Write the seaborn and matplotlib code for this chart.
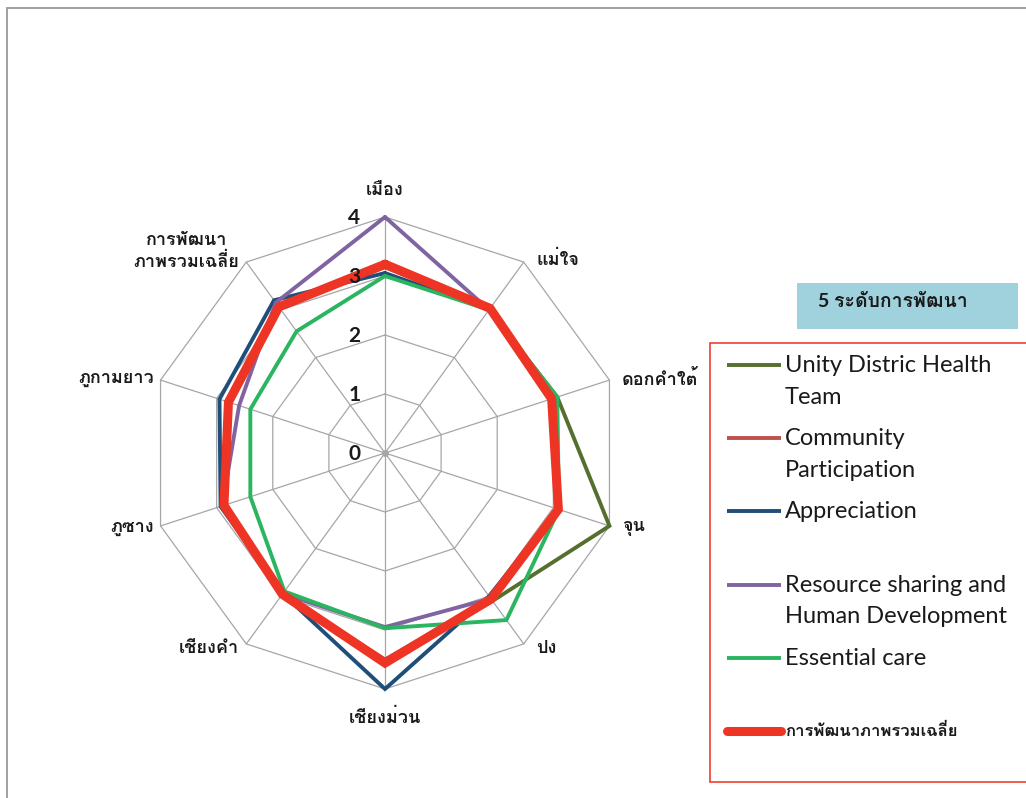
import numpy as np
import pandas as pd
import matplotlib
matplotlib.use("Agg")
import matplotlib.pyplot as plt
import seaborn as sns
from matplotlib import font_manager as fm
from matplotlib.ft2font import FT2Font
from matplotlib.patches import Rectangle
from matplotlib.lines import Line2D

# ---- data -------------------------------------------------------------
categories = ["เมือง", "แม่ใจ", "ดอกคำใต้", "จุน", "ปง", "เชียงม่วน",
              "เชียงคำ", "ภูซาง", "ภูกามยาว", "การพัฒนา\nภาพรวมเฉลี่ย"]

unity        = [3.20, 3.00, 3.07, 4.00, 3.10, 3.55, 2.95, 2.85, 2.80, 3.05]
community    = [3.15, 3.00, 2.95, 3.05, 3.05, 3.50, 2.95, 2.85, 2.80, 3.05]
appreciation = [3.05, 3.00, 2.97, 3.09, 3.00, 4.00, 2.95, 2.93, 2.95, 3.20]
resource     = [4.00, 3.00, 2.97, 3.09, 3.05, 2.95, 2.95, 2.90, 2.60, 3.15]
essential    = [3.00, 3.00, 3.07, 3.10, 3.50, 2.97, 2.90, 2.40, 2.40, 2.55]
average      = [3.20, 3.03, 2.97, 3.09, 3.06, 3.56, 2.96, 2.87, 2.79, 3.06]

series_labels = ["Unity Distric Health\nTeam", "Community\nParticipation",
                 "Appreciation", "Resource sharing and\nHuman Development",
                 "Essential care", "การพัฒนาภาพรวมเฉลี่ย"]
radial_ticks = [0, 1, 2, 3, 4]
legend_title = "5 ระดับการพัฒนา"

# ---- styling ----------------------------------------------------------
series_values = [unity, community, appreciation, resource, essential, average]
series_colors = ["#55702E", "#C0504D", "#1F4E79", "#8064A2", "#2BB560", "#EE3424"]
series_widths = [2.8, 2.8, 2.8, 2.8, 2.8, 6.5]

sns.set_theme(style="white")


def thai_families():
    names = []
    for f in fm.fontManager.ttflist:
        try:
            cmap = FT2Font(f.fname).get_charmap()
        except Exception:
            continue
        if 0x0E01 in cmap and f.name not in names:
            names.append(f.name)
    return names


plt.rcParams["font.family"] = ["Lato"] + thai_families() + ["DejaVu Sans"]

W, H = 1026, 798
fig = plt.figure(figsize=(W / 100, H / 100), dpi=100)
fig.patch.set_facecolor("white")


def fx(px):
    return px / W


def fy(py):
    return 1 - py / H


# chart-area frame
fig.add_artist(Line2D([fx(7), fx(7)], [fy(8), 0], color="#A0A0A0", lw=1.4))
fig.add_artist(Line2D([fx(7), 1], [fy(8), fy(8)], color="#A0A0A0", lw=1.4))

# ---- radar axes -------------------------------------------------------
cx, cy, r_top_px = 385, 453, 236
rmax = 5.0
rpx = r_top_px * rmax / max(radial_ticks)
ax = fig.add_axes([fx(cx - rpx), fy(cy + rpx), 2 * rpx / W, 2 * rpx / H],
                  projection="polar")
ax.set_theta_offset(np.pi / 2)
ax.set_theta_direction(-1)
ax.patch.set_alpha(0)

n = len(categories)
theta = np.arange(n) * 2 * np.pi / n
theta_closed = np.append(theta, 2 * np.pi)

grid_col = "#A6A6A6"
for lvl in radial_ticks[1:]:
    ax.plot(theta_closed, [lvl] * (n + 1), color=grid_col, lw=0.9, zorder=1)
for t in theta:
    ax.plot([t, t], [0, max(radial_ticks)], color=grid_col, lw=0.9, zorder=1)
ax.plot([0], [0], "o", color=grid_col, ms=4, zorder=1)

for k, (vals, col, lw) in enumerate(zip(series_values, series_colors, series_widths)):
    frame = pd.DataFrame({"theta": theta_closed, "value": list(vals) + [vals[0]]})
    sns.lineplot(data=frame, x="theta", y="value", ax=ax, color=col, lw=lw,
                 sort=False, estimator=None, clip_on=False, zorder=3 + k,
                 solid_joinstyle="miter")

ax.set_ylim(0, rmax)
ax.grid(False)
ax.spines["polar"].set_visible(False)
ax.set_xticks([])
ax.set_yticks([])
ax.set_xlabel("")
ax.set_ylabel("")

# radial value labels, drawn above the series
for v in radial_ticks:
    ax.annotate(str(v), xy=(0, v), xytext=(-22, -1), textcoords="offset points",
                ha="center", va="center", fontsize=15, fontweight="bold",
                color="#1A1A1A", zorder=20)

# category labels
top = max(radial_ticks)
for t, lab in zip(theta, categories):
    s = np.sin(t)
    c = np.cos(t)
    if s > 0.1:
        ha, dx = "left", 9
    elif s < -0.1:
        ha, dx = "right", -5
    else:
        ha, dx = "center", 0
    dy = 20 * np.sign(c) if abs(s) < 0.1 else 3 * c
    if "\n" in lab:
        dy += 6
    ax.annotate(lab, xy=(t, top), xytext=(dx, dy), textcoords="offset points",
                ha=ha, va="center", multialignment="center",
                fontsize=13, fontweight="bold", color="#1A1A1A",
                linespacing=1.25, zorder=20)

# ---- legend -----------------------------------------------------------
fig.add_artist(Rectangle((fx(797), fy(329)), fx(1018) - fx(797), fy(283) - fy(329),
                         transform=fig.transFigure, facecolor="#A0D2DD",
                         edgecolor="none"))
fig.text(fx(818), fy(301), legend_title, fontsize=14, fontweight="bold",
         ha="left", va="center", color="#1A1A1A")

fig.add_artist(Rectangle((fx(710), fy(782)), 1.2, fy(343) - fy(782),
                         transform=fig.transFigure, facecolor="white",
                         edgecolor="#EE3F30", lw=1.2))

row0, row_step = 365, 73.2
for k, (lab, col, lw) in enumerate(zip(series_labels, series_colors, series_widths)):
    y = row0 + k * row_step
    fig.add_artist(Line2D([fx(727), fx(781)], [fy(y), fy(y)], color=col,
                          lw=lw, solid_capstyle="round" if lw > 4 else "butt"))
    thai = k == len(series_labels) - 1
    if thai:
        fig.text(fx(785), fy(y), lab, fontsize=12, fontweight="bold",
                 ha="left", va="center", color="#1A1A1A")
    else:
        fig.text(fx(785), fy(y - 10), lab, fontsize=17, ha="left", va="top",
                 linespacing=1.62, color="#1A1A1A")

fig.savefig("out.png", dpi=100, facecolor="white")
